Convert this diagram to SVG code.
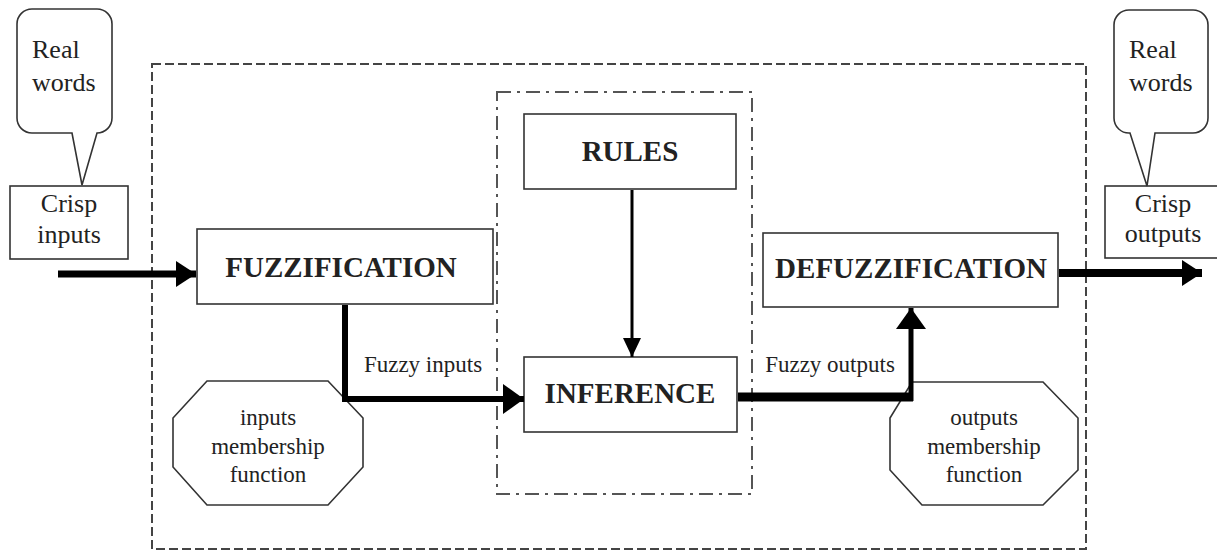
<svg xmlns="http://www.w3.org/2000/svg" width="1217" height="553" viewBox="0 0 1217 553">
<style>
.box{fill:#fff;stroke:#333;stroke-width:1.6}
.t{font-family:"Liberation Serif","Times New Roman",serif;fill:#222}
.s{font-size:23px}
.m{font-size:26px}
.b{font-size:29px;font-weight:bold}
.outer{fill:none;stroke:#444;stroke-width:2;stroke-dasharray:9 4}
.inner{fill:none;stroke:#555;stroke-width:2;stroke-dasharray:14 6 3 6}
.ln{fill:none;stroke:#000}
</style>
<defs>
<marker id="ah" viewBox="0 0 10 10" refX="10" refY="5" markerWidth="20" markerHeight="26" markerUnits="userSpaceOnUse" orient="auto" preserveAspectRatio="none">
<path d="M0,0 L10,5 L0,10 Z" fill="#000"/>
</marker>
<marker id="ahs" viewBox="0 0 10 10" refX="10" refY="5" markerWidth="19" markerHeight="18" markerUnits="userSpaceOnUse" orient="auto" preserveAspectRatio="none">
<path d="M0,0 L10,5 L0,10 Z" fill="#000"/>
</marker>
<marker id="ahb" viewBox="0 0 10 10" refX="10" refY="5" markerWidth="21" markerHeight="30" markerUnits="userSpaceOnUse" orient="auto" preserveAspectRatio="none">
<path d="M0,0 L10,5 L0,10 Z" fill="#000"/>
</marker>
</defs>
<rect width="1217" height="553" fill="#fff"/>
<g id="frames">
<rect class="outer" x="152" y="64" width="934" height="485"/>
<rect class="inner" x="497" y="92" width="255" height="402"/>
</g>
<g id="callout-left">
<path class="box" d="M32,9 H97 A15,15 0 0 1 112,24 V118 A15,15 0 0 1 97,133 L82,185 L72,133 H32 A15,15 0 0 1 17,118 V24 A15,15 0 0 1 32,9 Z"/>
<text class="t m" x="32" y="58">Real</text>
<text class="t m" x="32" y="91">words</text>
</g>
<g id="crisp-inputs">
<rect class="box" x="10" y="186" width="118" height="73"/>
<text class="t m" x="69" y="212" text-anchor="middle">Crisp</text>
<text class="t m" x="69" y="243" text-anchor="middle">inputs</text>
</g>
<g id="fuzzification">
<rect class="box" x="197" y="229" width="296" height="75"/>
<text class="t b" x="341" y="277" text-anchor="middle">FUZZIFICATION</text>
</g>
<g id="rules">
<rect class="box" x="524" y="114" width="212" height="75"/>
<text class="t b" x="630" y="161" text-anchor="middle">RULES</text>
</g>
<g id="inference">
<rect class="box" x="524" y="357" width="213" height="75"/>
<text class="t b" x="630" y="403" text-anchor="middle">INFERENCE</text>
</g>
<g id="defuzzification">
<rect class="box" x="763" y="233" width="295" height="74"/>
<text class="t b" x="911" y="278" text-anchor="middle">DEFUZZIFICATION</text>
</g>
<g id="label-fuzzy-inputs">
<text class="t s" x="423" y="372" text-anchor="middle">Fuzzy inputs</text>
</g>
<g id="label-fuzzy-outputs">
<text class="t s" x="830" y="372" text-anchor="middle">Fuzzy outputs</text>
</g>
<g id="inputs-membership">
<polygon class="box" points="207,381 328,381 363,418 363,467 328,505 207,505 173,467 173,418"/>
<text class="t s" x="268" y="425" text-anchor="middle">inputs</text>
<text class="t s" x="268" y="454" text-anchor="middle">membership</text>
<text class="t s" x="268" y="482" text-anchor="middle">function</text>
</g>
<g id="outputs-membership">
<polygon class="box" points="912,382 1043,382 1078,418 1078,470 1043,505 922,505 890,470 890,418"/>
<text class="t s" x="984" y="425" text-anchor="middle">outputs</text>
<text class="t s" x="984" y="454" text-anchor="middle">membership</text>
<text class="t s" x="984" y="482" text-anchor="middle">function</text>
</g>
<g id="crisp-outputs">
<rect class="box" x="1105" y="186" width="125" height="72"/>
<text class="t m" x="1163" y="212" text-anchor="middle">Crisp</text>
<text class="t m" x="1163" y="242" text-anchor="middle">outputs</text>
</g>
<g id="callout-right">
<path class="box" d="M1129,10 H1193 A15,15 0 0 1 1208,25 V118 A15,15 0 0 1 1193,133 H1155 L1147,186 L1130,133 A15,15 0 0 1 1114,118 V25 A15,15 0 0 1 1129,10 Z"/>
<text class="t m" x="1129" y="58">Real</text>
<text class="t m" x="1129" y="91">words</text>
</g>
<g id="connectors">
<line class="ln" x1="58" y1="274" x2="196" y2="274" stroke-width="7" marker-end="url(#ah)"/>
<line class="ln" x1="632" y1="190" x2="632" y2="357" stroke-width="3" marker-end="url(#ahs)"/>
<polyline class="ln" points="345,305 345,399 524,399" stroke-width="6" marker-end="url(#ahb)"/>
<line class="ln" x1="738" y1="397" x2="913" y2="397" stroke-width="9"/>
<line class="ln" x1="911" y1="401" x2="911" y2="308" stroke-width="5" marker-end="url(#ahb)"/>
<line class="ln" x1="1059" y1="273" x2="1202" y2="273" stroke-width="8" marker-end="url(#ah)"/>
</g>
</svg>
